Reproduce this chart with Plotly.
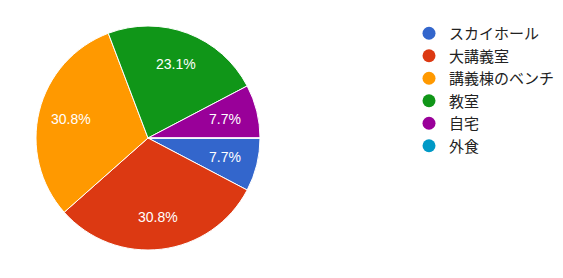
import math
import plotly.graph_objects as go

labels = ["スカイホール", "大講義室", "講義棟のベンチ", "教室", "自宅", "外食"]
values = [1, 4, 4, 3, 1, 0]
colors = ["#3366cc", "#dc3912", "#ff9900", "#109618", "#990099", "#0099c6"]

W, H = 563, 278
FONT = "Arial, Liberation Sans, Noto Sans CJK JP, sans-serif"
CX, CY, R = 148, 138, 112  # pie centre / radius in pixels

fig = go.Figure()
fig.add_trace(go.Pie(
    labels=labels, values=values, sort=False, direction="clockwise", rotation=90,
    marker=dict(colors=colors, line=dict(color="white", width=1)),
    textinfo="none",
    showlegend=False, hoverinfo="label+percent",
    domain=dict(x=[(CX - R) / W, (CX + R) / W], y=[1 - (CY + R) / H, 1 - (CY - R) / H]),
))
for lab, col in zip(labels, colors):
    fig.add_trace(go.Scatter(
        x=[None], y=[None], mode="markers", name=lab,
        marker=dict(symbol="circle", size=13, color=col),
        showlegend=True,
    ))

# percentage labels placed like the original (about 0.7 of the radius)
total = sum(values)
cum = 0
for v in values:
    if v > 0:
        mid = (cum + v / 2) / total * 2 * math.pi
        px = CX + 0.71 * R * math.cos(mid)
        py = CY + 0.71 * R * math.sin(mid)
        fig.add_annotation(
            x=px / W, y=1 - py / H, xref="paper", yref="paper",
            text=f"{v / total * 100:.1f}%", showarrow=False,
            font=dict(color="white", size=14, family=FONT),
            xanchor="center", yanchor="middle",
        )
    cum += v

fig.update_layout(
    width=W, height=H, margin=dict(l=0, r=0, t=0, b=0),
    paper_bgcolor="white", plot_bgcolor="white",
    xaxis=dict(visible=False), yaxis=dict(visible=False),
    legend=dict(x=409 / W, y=1 - 17 / H, xanchor="left", yanchor="top",
                font=dict(size=15, color="#222222", family=FONT),
                itemwidth=30, tracegroupgap=0, bgcolor="rgba(0,0,0,0)"),
)
fig.write_html("out.html")
